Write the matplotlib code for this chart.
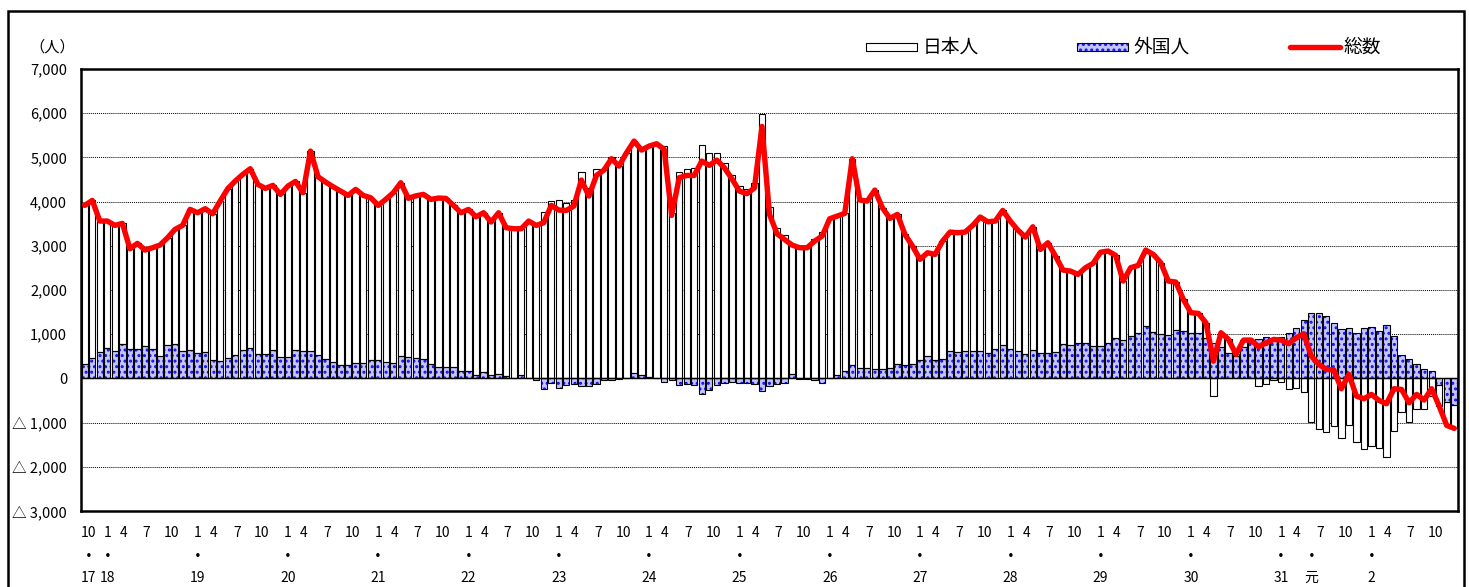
import numpy as np
import pandas as pd
import matplotlib
matplotlib.use('Agg')
import matplotlib.pyplot as plt
from matplotlib.patches import Rectangle
from matplotlib.lines import Line2D
import matplotlib.transforms as mtransforms

plt.rcParams['font.family'] = ['Noto Sans CJK JP', 'DejaVu Sans']
plt.rcParams['hatch.linewidth'] = 1.4

# ---------------- data ----------------
months = pd.period_range('2005-10', '2020-12', freq='M')

total = [
    3914, 4027, 3560, 3560, 3462, 3507, 2934, 3054, 2903, 2956, 3017, 3182,
    3371, 3462, 3824, 3748, 3839, 3725, 4012, 4291, 4465, 4615, 4744, 4389,
    4299, 4367, 4163, 4351, 4457, 4200, 5143, 4563, 4442, 4336, 4238, 4140,
    4276, 4140, 4087, 3914, 4050, 4200, 4427, 4075, 4130, 4163, 4050, 4080,
    4072, 3914, 3748, 3823, 3657, 3748, 3537, 3748, 3409, 3386, 3386, 3559,
    3461, 3522, 3914, 3808, 3800, 3899, 4487, 4125, 4592, 4713, 4970, 4803,
    5105, 5369, 5166, 5256, 5309, 5181, 3688, 4540, 4592, 4592, 4917, 4819,
    4939, 4766, 4517, 4238, 4178, 4310, 5700, 3710, 3273, 3145, 3016, 2956,
    2956, 3107, 3220, 3612, 3672, 3733, 4970, 4035, 4012, 4261, 3861, 3620,
    3710, 3258, 2994, 2692, 2843, 2805, 3107, 3311, 3295, 3311, 3461, 3650,
    3544, 3559, 3800, 3559, 3356, 3197, 3431, 2918, 3069, 2768, 2451, 2428,
    2353, 2504, 2602, 2855, 2881, 2783, 2202, 2504, 2556, 2903, 2805, 2617,
    2202, 2179, 1787, 1486, 1470, 1259, 392, 1033, 882, 543, 867, 867,
    716, 807, 882, 867, 784, 920, 1010, 505, 317, 204, 189, -234,
    90, -400, -460, -362, -498, -573, -234, -249, -551, -362, -490, -234,
    -626, -1063, -1131,
]

foreign = [
    317, 452, 588, 686, 618, 784, 656, 656, 724, 671, 505, 754,
    777, 618, 641, 581, 603, 415, 400, 460, 528, 641, 694, 550,
    558, 649, 483, 483, 633, 626, 626, 535, 445, 370, 309, 302,
    347, 339, 422, 415, 377, 354, 505, 490, 470, 445, 330, 265,
    265, 260, 165, 170, 70, 140, 70, 90, 50, 10, 80, 20,
    -40, -250, -110, -220, -160, -135, -175, -175, -135, -25, -45, -10,
    20, 130, 70, 30, 15, -80, -45, -140, -135, -160, -360, -270,
    -160, -110, -75, -110, -110, -120, -290, -175, -120, -100, 105, -8,
    -5, -45, -100, 15, 70, 165, 300, 240, 240, 205, 220, 240,
    330, 295, 315, 415, 505, 415, 445, 610, 605, 620, 610, 610,
    580, 655, 755, 655, 620, 545, 640, 580, 580, 605, 785, 760,
    805, 800, 730, 740, 792, 920, 860, 958, 1026, 1184, 1056, 1010,
    973, 1094, 1071, 1033, 1033, 920, 792, 709, 581, 505, 709, 845,
    890, 943, 920, 943, 1033, 1146, 1312, 1486, 1470, 1410, 1259, 1124,
    1146, 1033, 1146, 1161, 1071, 1199, 958, 520, 430, 332, 204, 166,
    -150, -535, -600,
]

japanese = [
    3597, 3575, 2972, 2874, 2844, 2723, 2278, 2398, 2179, 2285, 2512, 2428,
    2594, 2844, 3183, 3167, 3236, 3310, 3612, 3831, 3937, 3974, 4050, 3839,
    3741, 3718, 3680, 3868, 3824, 3574, 4517, 4028, 3997, 3966, 3929, 3838,
    3929, 3801, 3665, 3499, 3673, 3846, 3922, 3585, 3660, 3718, 3720, 3815,
    3807, 3654, 3583, 3653, 3587, 3608, 3467, 3658, 3359, 3376, 3306, 3539,
    3501, 3772, 4024, 4028, 3960, 4034, 4662, 4300, 4727, 4738, 5015, 4813,
    5085, 5239, 5096, 5226, 5294, 5261, 3733, 4680, 4727, 4752, 5277, 5089,
    5099, 4876, 4592, 4348, 4288, 4430, 5990, 3885, 3393, 3245, 2911, 2964,
    2961, 3152, 3320, 3597, 3602, 3568, 4670, 3795, 3772, 4056, 3641, 3380,
    3380, 2963, 2679, 2277, 2338, 2390, 2662, 2701, 2690, 2691, 2851, 3040,
    2964, 2904, 3045, 2904, 2736, 2652, 2791, 2338, 2489, 2163, 1666, 1668,
    1548, 1704, 1872, 2115, 2089, 1863, 1342, 1546, 1530, 1719, 1749, 1607,
    1229, 1085, 716, 453, 437, 339, -400, 324, 301, 38, 158, 22,
    -174, -136, -38, -76, -249, -226, -302, -981, -1153, -1206, -1070, -1358,
    -1056, -1433, -1606, -1523, -1569, -1772, -1192, -769, -981, -694, -694, -400,
    -476, -528, -531,
]

month_labels = {1: '1', 4: '4', 7: '7', 10: '10'}
era_labels = {
    '2005-10': '17', '2006-01': '18', '2007-01': '19', '2008-01': '20',
    '2009-01': '21', '2010-01': '22', '2011-01': '23', '2012-01': '24',
    '2013-01': '25', '2014-01': '26', '2015-01': '27', '2016-01': '28',
    '2017-01': '29', '2018-01': '30', '2019-01': '31', '2019-05': '元',
    '2020-01': '2',
}
y_ticks = [7000, 6000, 5000, 4000, 3000, 2000, 1000, 0, -1000, -2000, -3000]
y_tick_labels = ['7,000', '6,000', '5,000', '4,000', '3,000', '2,000', '1,000',
                 '0', '△ 1,000', '△ 2,000', '△ 3,000']
legend_labels = ['日本人', '外国人', '総数']

# ---------------- figure ----------------
W, H = 1469, 587
fig = plt.figure(figsize=(W / 100, H / 100), dpi=100)
L, R, T_, B = 81, 1458, 69, 511
ax = fig.add_axes([L / W, 1 - B / H, (R - L) / W, (B - T_) / H])

x = np.arange(len(months))
F = np.array(foreign)
J = np.array(japanese)
Tot = np.array(total)
bottom_j = np.where(np.sign(J) == np.sign(F), F, 0)

bw = 0.84
fill_blue = '#c4c4ff'
hatch_blue = '#1010f0'
ax.bar(x, F, bw, color=fill_blue, edgecolor=hatch_blue, hatch='...', linewidth=0, zorder=2)
ax.bar(x, F, bw, facecolor='none', edgecolor='black', linewidth=0.8, zorder=3)
ax.bar(x, J, bw, bottom=bottom_j, facecolor='white', edgecolor='black', linewidth=0.8, zorder=2)
ax.plot(x, Tot, color='#ff0000', lw=3.9, zorder=6, solid_joinstyle='round',
        solid_capstyle='round')

for v in [6000, 5000, 4000, 3000, 2000, 1000, -1000, -2000]:
    ax.axhline(v, color='black', lw=0.7, ls=(0, (1, 1)), zorder=1)
ax.axhline(0, color='black', lw=1.0, zorder=4)

ax.set_xlim(-0.5, len(months) - 0.5)
ax.set_ylim(-3000, 7000)
ax.set_xticks([])
ax.set_yticks(y_ticks)
ax.set_yticklabels(y_tick_labels)
ax.tick_params(axis='y', length=0, pad=10, labelsize=10.5)
for s in ax.spines.values():
    s.set_linewidth(1.8)
    s.set_color('black')

# x labels
trans = mtransforms.blended_transform_factory(ax.transData, fig.transFigure)
px = (R - L) / len(months)
offsets = {1: 0.0, 4: -6.7, 7: -6.0, 10: -3.4}
fs_x = 10
for i, m in enumerate(months):
    key = f'{m.year:04d}-{m.month:02d}'
    xx = None
    if m.month in month_labels:
        off = offsets[m.month] if i > 0 else 3.5
        xx = i + off / px
        ax.text(xx, 1 - 533 / H, month_labels[m.month], transform=trans,
                ha='center', va='center', fontsize=fs_x, clip_on=False)
    if key in era_labels:
        if xx is None:
            xx = i
        ax.text(xx, 1 - 557 / H, '・', transform=trans, ha='center',
                va='center', fontsize=fs_x, fontweight='bold', clip_on=False)
        ax.text(xx, 1 - 578 / H, era_labels[key], transform=trans,
                ha='center', va='center', fontsize=fs_x, clip_on=False)

# unit label
fig.text(52 / W, 1 - 47 / H, '（人）', ha='center', va='center', fontsize=11)

# legend
def fx(p):
    return p / W

def fy(p):
    return 1 - p / H

ly = 47
fig.add_artist(Rectangle((fx(866), fy(ly + 4)), fx(51), 8 / H, facecolor='white',
                         edgecolor='black', lw=0.8, transform=fig.transFigure))
fig.text(fx(923), fy(ly), legend_labels[0], ha='left', va='center', fontsize=13.5)
fig.add_artist(Rectangle((fx(1077), fy(ly + 4)), fx(51), 8 / H, facecolor=fill_blue,
                         edgecolor=hatch_blue, hatch='...', lw=0,
                         transform=fig.transFigure))
fig.add_artist(Rectangle((fx(1077), fy(ly + 4)), fx(51), 8 / H, facecolor='none',
                         edgecolor='black', lw=0.8, transform=fig.transFigure))
fig.text(fx(1133), fy(ly), legend_labels[1], ha='left', va='center', fontsize=13.5)
fig.add_artist(Line2D([fx(1290), fx(1340)], [fy(ly), fy(ly)], color='#ff0000', lw=3.9,
                      transform=fig.transFigure, solid_capstyle='round'))
fig.text(fx(1343), fy(ly), legend_labels[2], ha='left', va='center', fontsize=13.5)

# outer chart frame
fig.add_artist(Rectangle((fx(8), -0.2), fx(1464 - 8), fy(11.5) + 0.2, facecolor='none',
                         edgecolor='black', lw=1.8, transform=fig.transFigure))

fig.savefig('out.png', dpi=100)
